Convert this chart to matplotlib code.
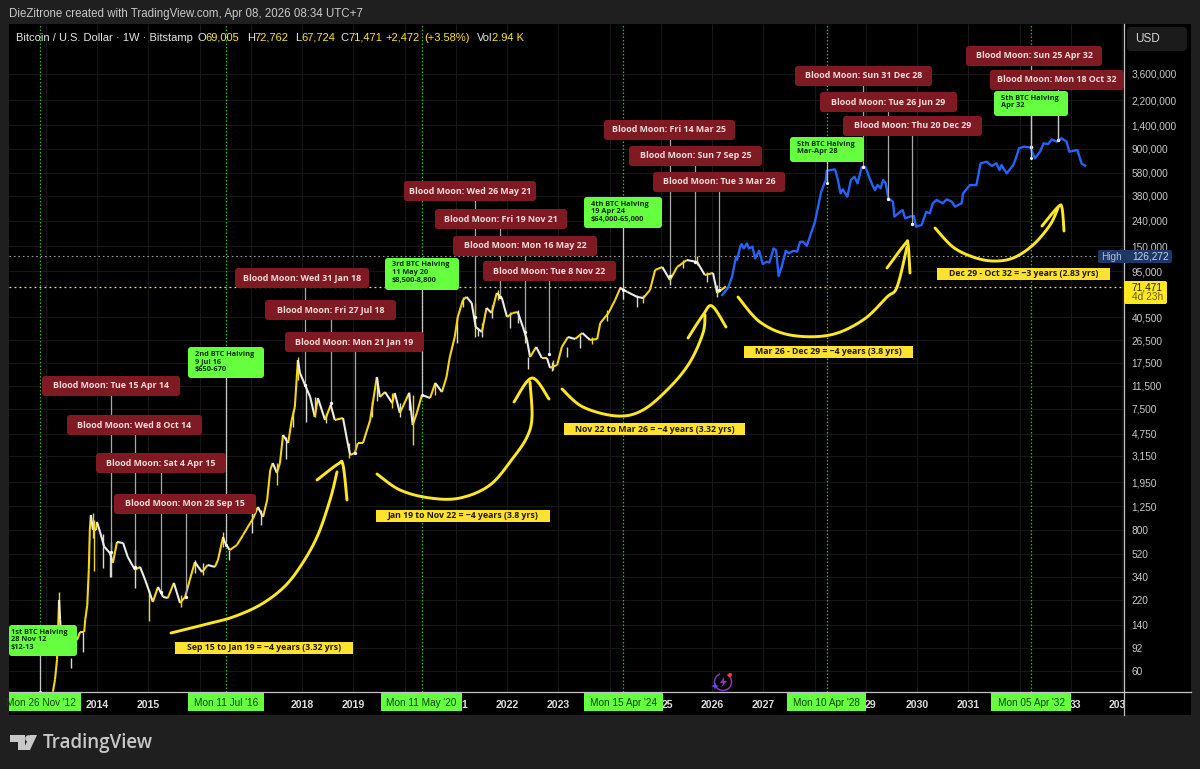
import numpy as np
import matplotlib
matplotlib.use("Agg")
import matplotlib.pyplot as plt
from matplotlib.collections import LineCollection
from matplotlib.patches import FancyBboxPatch, Rectangle, Polygon, Circle, Arc

# ---------- data ----------
hist_years = [2013.14,2013.18,2013.22,2013.26,2013.28,2013.32,2013.38,2013.51,2013.61,2013.67,2013.75,2013.77,2013.81,2013.84,2013.86,2013.88,2013.92,2013.98,
 2014.00,2014.06,2014.14,2014.25,2014.31,2014.39,2014.51,2014.60,2014.74,2014.84,2014.94,2015.03,2015.09,2015.19,2015.29,2015.38,2015.50,2015.62,2015.72,2015.81,2015.91,
 2016.05,2016.16,2016.30,2016.36,2016.46,2016.50,2016.59,2016.73,2016.85,2016.99,2017.05,2017.14,2017.24,2017.32,2017.38,2017.43,2017.51,2017.57,2017.63,2017.73,2017.80,2017.86,2017.92,2017.96,
 2018.06,2018.16,2018.25,2018.31,2018.45,2018.56,2018.64,2018.80,2018.88,2018.94,2019.03,2019.09,2019.19,2019.33,2019.46,2019.52,2019.62,2019.76,2019.81,2019.91,
 2020.09,2020.16,2020.24,2020.34,2020.50,2020.60,2020.73,2020.82,2020.88,2020.98,2021.04,2021.14,2021.21,2021.31,2021.39,2021.51,2021.60,2021.70,2021.80,2021.90,
 2022.00,2022.11,2022.21,2022.31,2022.39,2022.45,2022.57,2022.68,2022.78,2022.84,2022.98,2023.07,2023.19,2023.33,2023.47,2023.62,2023.76,2023.82,2023.98,
 2024.11,2024.21,2024.35,2024.54,2024.66,2024.79,2024.89,2025.03,2025.18,2025.32,2025.51,2025.71,2025.86,2026.02,2026.10,2026.27]
hist_close = [41,51,74,222,154,88,106,106,106,123,123,154,202,387,806,1062,806,806,
 934,776,594,528,439,646,634,490,387,408,321,252,214,282,235,230,304,210,235,321,446,
 371,423,408,464,708,634,557,611,735,917,1005,1230,1024,1400,2433,2766,2304,2766,4638,4002,6110,7764,18456,14520,
 11640,9336,6459,9168,6110,8058,6110,6341,4230,3210,3324,4002,4002,6110,13494,9336,10236,8358,10050,6954,
 10050,5574,6954,9684,9168,12084,10236,13494,19140,28200,40740,55740,59000,52800,33900,30900,48120,43860,63400,57800,
 40740,43860,44640,33900,26700,19500,23460,19140,19140,15960,16860,23460,28200,27180,30360,26700,27180,36480,43860,
 55740,69540,64590,59000,57800,67000,96840,102360,80580,102360,116400,112200,88320,91680,63420,71471]

wick_years = [2013.26,2013.73,2013.49,2013.94,2014.25,2014.74,2015.01,2016.57,2017.20,2017.51,2017.69,2018.08,2020.16,2021.43,2022.41,2022.90,2023.17,2024.54,
 2013.92,2014.12,2014.27,2015.64,2015.91,2016.07,2016.46,2017.02,2017.82,2017.93,2018.25,2018.47,2018.91,2019.36,2019.46,2019.76,2019.91,2020.09,2020.60,
 2021.02,2021.14,2021.38,2021.51,2021.70,2021.82,2022.05,2022.21,2022.35,2022.87,2023.42,2023.65,2023.96,2024.26,2024.66,2025.18,2025.43,2025.70,2025.90,2026.09]
wick_low   = [160,85,63,379,339,277,151,464,883,1848,2982,5900,3870,28716,15600,15360,19500,48960,
 700,400,339,196,368,351,587,760,5370,12780,6459,5800,3030,6459,8600,7560,6459,7350,9684,
 25200,48960,28200,28200,39900,55740,33200,36480,25200,15000,23000,24800,37900,57000,52800,73600,101000,106000,77800,59000]
wick_high  = [257,123,76,968,490,557,267,557,1164,2766,4464,11220,9684,33240,19500,18456,23460,61100,
 1100,750,650,245,464,439,770,1100,7350,19600,9336,6954,4002,8600,13500,10050,8358,10236,12084,
 40740,59000,52800,36400,50700,67000,44640,46300,33900,17800,29000,28200,46300,71000,61100,91700,116400,126272,93500,73000]

proj_years = [2026.20,2026.31,2026.39,2026.47,2026.49,2026.55,2026.58,2026.62,2026.68,2026.72,2026.79,2026.84,2026.92,2026.99,2027.07,2027.12,2027.20,2027.25,2027.30,2027.36,2027.44,2027.50,2027.59,2027.66,2027.72,2027.78,2027.85,2027.91,
 2028.01,2028.07,2028.13,2028.22,2028.24,2028.40,2028.45,2028.51,2028.55,2028.64,2028.71,2028.78,2028.84,2028.92,2028.99,2029.07,2029.13,2029.18,2029.23,2029.29,2029.34,2029.39,2029.44,2029.53,2029.56,2029.67,2029.72,2029.77,2029.86,2029.94,2029.98,
 2030.09,2030.18,2030.25,2030.31,2030.38,2030.50,2030.58,2030.68,2030.74,2030.87,2030.90,2031.03,2031.16,2031.24,2031.36,2031.46,2031.55,2031.61,2031.65,2031.75,2031.88,2031.94,2031.99,
 2032.09,2032.21,2032.30,2032.40,2032.47,2032.56,2032.63,2032.73,2032.82,2032.92,2032.97,2033.13,2033.21,2033.28]
proj_price = [61100,69540,85140,124000,116500,149000,156000,144000,158000,144000,149000,120000,138000,108000,113000,111000,144000,140000,86700,103000,138000,132000,138000,136000,163000,163000,151000,179000,
 236000,311000,410000,508000,604000,618000,524000,397000,428000,374000,508000,540000,478000,641000,649000,533000,463000,423000,463000,436000,508000,478000,363000,341000,259000,283000,292000,251000,259000,262000,215000,
 222000,283000,275000,331000,352000,331000,356000,341000,311000,331000,397000,463000,463000,691000,712000,658000,691000,611000,670000,574000,670000,781000,911000,
 939000,927000,757000,856000,999000,986000,1075000,1030000,1095000,1030000,856000,883000,691000,662000]

moon_labels = ["Tue 15 Apr 14","Wed 8 Oct 14","Sat 4 Apr 15","Mon 28 Sep 15","Wed 31 Jan 18","Fri 27 Jul 18","Mon 21 Jan 19",
 "Wed 26 May 21","Fri 19 Nov 21","Mon 16 May 22","Tue 8 Nov 22","Fri 14 Mar 25","Sun 7 Sep 25","Tue 3 Mar 26",
 "Sun 31 Dec 28","Tue 26 Jun 29","Thu 20 Dec 29","Sun 25 Apr 32","Mon 18 Oct 32"]
moon_years = [2014.27,2014.74,2015.25,2015.73,2018.06,2018.57,2019.03,2021.38,2021.86,2022.35,2022.82,2025.18,2025.67,2026.14,2028.95,2029.44,2029.91,2032.22,2032.75]
moon_price = [537,408,257,235,11640,8358,3324,40740,59000,30900,20580,86700,112200,67000,645900,358200,226200,933600,1062000]

halving_labels = ["1st BTC Halving\n28 Nov 12\n$12-13","2nd BTC Halving\n9 Jul 16\n$650-670","3rd BTC Halving\n11 May 20\n$8,500-8,800",
 "4th BTC Halving\n19 Apr 24\n$64,000-65,000","5th BTC Halving\nMar-Apr 28","5th BTC Halving\nApr 32"]
halving_years = [2012.89,2016.52,2020.34,2024.26,2028.24,2032.22]
halving_price = [39,611,9684,67000,481200,762000]
halving_dates = ["Mon 26 Nov '12","Mon 11 Jul '16","Mon 11 May '20","Mon 15 Apr '24","Mon 10 Apr '28","Mon 05 Apr '32"]

price_ticks = [3600000,2200000,1400000,900000,580000,380000,240000,150000,95000,40500,26500,17500,11500,7500,4750,3150,1950,1250,800,520,340,220,140,92,60]
time_tick_pos = [2014,2015,2018,2019,2021.16,2022,2023,2025.12,2026,2027,2029.10,2030,2031,2033.10,2033.90]
time_tick_text = ["2014","2015","2018","2019","1","2022","2023","25","2026","2027","29","2030","2031","33","203"]
grid_years = list(range(2013,2035))
ath_price = 126272
last_price = 71471

cycle_labels = ["Sep 15 to Jan 19 = ~4 years (3.32 yrs)","Jan 19 to Nov 22 = ~4 years (3.8 yrs)","Nov 22 to Mar 26 = ~4 years (3.32 yrs)",
 "Mar 26 - Dec 29 = ~4 years (3.8 yrs)","Dec 29 - Oct 32 = ~3 years (2.83 yrs)"]

# ---------- layout (pixels of the 1200x769 picture) ----------
W, H = 1200, 769
PX_L, PX_R, PX_T, PX_B = 9, 1124, 24, 692
PX_PER_YEAR = 51.25
PX_PER_DECADE = 125.0
moon_boxes = [(42,180,386),(67,202,425),(96,226,463),(114,256,504),(235,369,278),(265,396,310),(285,424,342),
 (404,536,191),(435,567,219),(453,597,246),(483,616,271),(604,735,130),(629,762,156),(653,785,182),
 (795,932,76),(820,957,102),(843,982,126),(966,1102,56),(990,1124,80)]
halving_boxes = [(9,77,625,656),(188,264,347,378),(385,459,258,290),(584,662,197,228),(790,864,137,162),(994,1068,91,116)]
date_boxes = [(9,81),(188,264),(381,462),(584,663),(787,866),(991,1071)]
cycle_boxes = [(175,353,648),(376,550,516),(564,745,429),(744,913,352),(937,1110,274)]
curves = [
 [(171,633),(207,624),(233,617),(260,605),(283,588),(300,567),(317,537),(330,500),(337,472)],
 [(317,480),(338,464),(343,465),(347,500)],
 [(377,474),(400,490),(430,498),(460,498),(490,485),(513,458),(527,437),(532,417),(530,382)],
 [(514,402),(532,378),(549,399)],
 [(562,389),(583,407),(617,416),(643,410),(670,387),(690,362),(703,333),(705,315)],
 [(688,338),(703,315),(712,306),(726,327)],
 [(738,297),(760,322),(790,335),(830,335),(863,320),(887,297),(897,287),(907,247)],
 [(887,268),(905,244),(908,244),(910,273)],
 [(935,228),(953,247),(973,257),(993,261),(1013,258),(1033,245),(1050,225),(1058,208)],
 [(1042,226),(1058,207),(1062,208),(1064,231)],
]

FONT = "Liberation Sans"
BOXFONT = "Open Sans"
plt.rcParams["font.family"] = [FONT, "DejaVu Sans"]
BG = "#1f1f1f"; YEL = "#ffe81f"; GRN = "#66ff3f"; RED = "#7f1a22"; GRID = "#161616"; LINEC = "#c4c4c4"

fig = plt.figure(figsize=(W/100, H/100), dpi=100, facecolor=BG)
panel = fig.add_axes([9/W, 1-715/H, (1191-9)/W, (715-24)/H], facecolor="black", zorder=-1)
panel.set_xticks([]); panel.set_yticks([])
for s in panel.spines.values():
    s.set_visible(False)

ax = fig.add_axes([PX_L/W, 1-PX_B/H, (PX_R-PX_L)/W, (PX_B-PX_T)/H], facecolor="black")
ax.set_yscale("log")
ax.set_xlim(2014+(PX_L-97)/PX_PER_YEAR, 2014+(PX_R-97)/PX_PER_YEAR)
ax.set_ylim(60*10**((671-PX_B)/PX_PER_DECADE), 60*10**((671-PX_T)/PX_PER_DECADE))
ax.yaxis.tick_right()
ax.set_yticks(price_ticks)
ax.set_yticklabels([f"{p:,}" for p in price_ticks], fontsize=7.3, color="#c9c9c9")
ax.minorticks_off()
ax.set_xticks(time_tick_pos)
ax.set_xticklabels(time_tick_text, fontsize=7.6, color="#dddddd", fontweight="bold")
ax.tick_params(axis="y", length=0, pad=5.5)
ax.tick_params(axis="x", length=0, pad=5.5)
ax.grid(True, axis="y", color=GRID, lw=0.8)
ax.vlines(grid_years, *ax.get_ylim(), color=GRID, lw=0.8, zorder=0.5)
ax.set_axisbelow(True)
for s in ax.spines.values():
    s.set_visible(False)

# price marks
ax.axhline(ath_price, color="#9a9a9a", lw=0.8, ls=(0, (1.5, 2.5)), zorder=1)
ax.axhline(last_price, color=YEL, lw=0.9, ls=(0, (1.5, 2.5)), zorder=1)
for hy in halving_years:
    ax.axvline(hy, color="#35b81c", lw=0.9, ls=(0, (1.2, 1.6)), zorder=1)

wick_cols = ["#d8d8d8" if i % 3 else "#f5d80f" for i in range(len(wick_years))]
ax.vlines(wick_years, wick_low, wick_high, colors=wick_cols, lw=1.0, zorder=3)
segs, cols = [], []
for i in range(len(hist_years)-1):
    segs.append([(hist_years[i], hist_close[i]), (hist_years[i+1], hist_close[i+1])])
    cols.append("#f5d80f" if hist_close[i+1] >= hist_close[i] else "#ececec")
ax.add_collection(LineCollection(segs, colors=cols, linewidths=1.5, zorder=4))
ax.plot(proj_years, proj_price, color="#2563f5", lw=1.7, zorder=5, solid_joinstyle="round")

# ---------- overlay in picture pixels ----------
ov = fig.add_axes([0, 0, 1, 1], facecolor="none")
ov.set_xlim(0, W); ov.set_ylim(H, 0); ov.axis("off")

def to_px(year, price):
    xd, yd = ax.transData.transform((year, price))
    return xd/fig.dpi*100, H - yd/fig.dpi*100

def rbox(x0, x1, y0, y1, fc, r=3, z=10, ec="none"):
    p = FancyBboxPatch((x0+r, y0+r), x1-x0-2*r, y1-y0-2*r, boxstyle=f"round,pad={r},rounding_size={r}",
                       fc=fc, ec=ec, lw=0, zorder=z, mutation_aspect=1)
    ov.add_patch(p); return p

def catmull(pts, n=14):
    P = np.array([pts[0]] + pts + [pts[-1]], float)
    out = []
    for i in range(1, len(P)-2):
        t = np.linspace(0, 1, n)[:, None]
        a, b, c, d = P[i-1], P[i], P[i+1], P[i+2]
        out.append(0.5*((2*b)+(-a+c)*t+(2*a-5*b+4*c-d)*t**2+(-a+3*b-3*c+d)*t**3))
    return np.vstack(out)

# axis frame
ov.plot([9, 1191], [PX_B, PX_B], color=LINEC, lw=0.9, zorder=9)
ov.plot([PX_R, PX_R], [24, 715], color=LINEC, lw=0.9, zorder=9)

# moons
for lab, yr, pr, (x0, x1, yc) in zip(moon_labels, moon_years, moon_price, moon_boxes):
    x, y = to_px(yr, pr)
    ov.plot([x, x], [yc, y], color="#a8a8a8", lw=0.9, zorder=8)
    ov.plot([x], [y], "o", ms=2.4, color="white", mew=0, zorder=8)
    rbox(x0, x1, yc-10, yc+10, RED)
    ov.text((x0+x1)/2, yc, "Blood Moon: "+lab, color="#efdcdc", fontsize=6.4, family=BOXFONT, fontweight="bold", ha="center", va="center", zorder=11)

# halvings
for i, (lab, yr, pr, (x0, x1, y0, y1)) in enumerate(zip(halving_labels, halving_years, halving_price, halving_boxes)):
    x, y = to_px(yr, pr)
    if i == 0:
        y = PX_B
    ov.plot([x, x], [y1, y], color="#c8c8c8", lw=0.9, zorder=8)
    ov.plot([x], [y], "o", ms=2.2, color="white", mew=0, zorder=8)
    rbox(x0, x1, y0, y1, GRN)
    tx = x0+2 if i == 0 else x0+7
    ov.text(tx, y0+3.5, lab, color="#0b2b08", fontsize=5.3, family=BOXFONT, fontweight="bold", ha="left", va="top", linespacing=1.15, zorder=11)
ov.plot(*[[to_px(moon_years[18], 1062000)[0]]*2, [116, 140]], color="#c8c8c8", lw=0.9, zorder=12)

# bottom date pills
for lab, yr, (x0, x1) in zip(halving_dates, halving_years, date_boxes):
    x = (x0+x1)/2 if x0 > 9 else 41
    ov.add_patch(Rectangle((x0, 693), x1-x0, 18, fc=GRN, ec="none", zorder=10))
    t = ov.text(x, 703, lab, color="#123f0c", fontsize=7.2, ha="center", va="center", zorder=11)
    t.set_clip_path(Rectangle((x0, 693), x1-x0, 18, transform=ov.transData))

# cycle arrows and labels
for c in curves:
    xy = catmull(c)
    ov.plot(xy[:, 0], xy[:, 1], color=YEL, lw=2.1, solid_capstyle="round", zorder=7)
for lab, (x0, x1, yc) in zip(cycle_labels, cycle_boxes):
    ov.add_patch(Rectangle((x0, yc-6), x1-x0, 12, fc="#ffe22e", ec="none", zorder=10))
    ov.text((x0+x1)/2, yc, lab, color="#1d1a00", fontsize=6.3, family=BOXFONT, fontweight="bold", ha="center", va="center", zorder=11)

# header
ov.text(9, 14, "DieZitrone created with TradingView.com, Apr 08, 2026 08:34 UTC+7", color="#c9c9c9", fontsize=8.3, va="center")
hdr_white = "#e6e6e6"; hdr_y = "#ffe52e"
for x, s, c in [(16, "Bitcoin / U.S. Dollar · 1W · Bitstamp", hdr_white), (197, "O", hdr_white), (205, "69,005", hdr_y),
                (247, "H", hdr_white), (254, "72,762", hdr_y), (295, "L", hdr_white), (301, "67,724", hdr_y),
                (340, "C", hdr_white), (348, "71,471", hdr_y), (385, "+2,472", hdr_y), (424, "(+3.58%)", hdr_y),
                (477, "Vol", hdr_white), (492, "2.94 K", hdr_y)]:
    ov.text(x, 38, s, color=c, fontsize=8.0, va="center", zorder=11)

# price axis widgets
rbox(1127, 1187, 27, 51, "#1b1b1b", r=4)
ov.text(1135, 39, "USD", color="#d5d5d5", fontsize=8.5, va="center", zorder=11)
rbox(1098, 1172, 250, 263, "#1c3768", r=2)
ov.text(1101, 256.5, "High", color="#a9bde0", fontsize=7.2, va="center", zorder=11)
ov.text(1132, 256.5, "126,272", color="#c7d3ea", fontsize=7.3, va="center", zorder=11)
rbox(1124, 1167, 281, 304, YEL, r=2)
ov.text(1132, 287.5, "71,471", color="#222200", fontsize=7.3, va="center", zorder=11)
ov.text(1132, 297.5, "4d 23h", color="#665f10", fontsize=7.3, va="center", zorder=11)

# assistant icon
ov.add_patch(Arc((723, 682), 17, 17, theta1=-60, theta2=250, color="#8a35b8", lw=1.1, zorder=11))
ov.add_patch(Polygon([(724, 677), (720, 683), (723, 683), (721, 688), (727, 681), (724, 681)], fc="#8a35b8", ec="none", zorder=11))
ov.add_patch(Polygon([(715, 682.5), (714, 685), (711, 686), (714, 687), (715, 690), (716, 687), (719, 686), (716, 685)], fc="#6d4cf5", ec="none", zorder=11))
ov.add_patch(Circle((730, 675), 2, fc="#f03a4a", ec="none", zorder=12))

# footer logo
LOGO = "#c8c8c8"
ov.add_patch(Polygon([(10, 735), (25, 735), (25, 750), (18, 750), (18, 742), (10, 742)], fc=LOGO, ec="none"))
ov.add_patch(Circle((28.5, 738.5), 3.3, fc=LOGO, ec="none"))
ov.add_patch(Polygon([(30, 735), (37, 735), (30, 750), (23, 750)], fc=LOGO, ec="none"))
ov.text(43, 743, "TradingView", color=LOGO, fontsize=13.5, family="Open Sans", fontweight="semibold", va="center")

fig.savefig("out.png", dpi=100, facecolor=BG)
